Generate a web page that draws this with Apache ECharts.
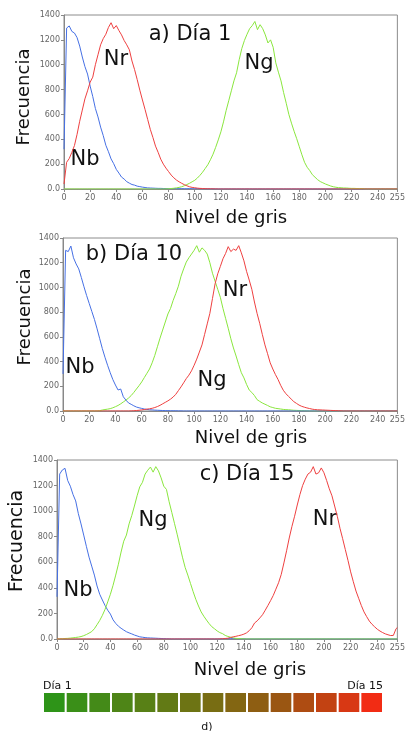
<!DOCTYPE html>
<html>
<head>
<meta charset="utf-8">
<title>Histogramas de nivel de gris</title>
<script src="https://cdn.jsdelivr.net/npm/echarts@6/dist/echarts.min.js"></script>
<style>
  html, body { margin: 0; padding: 0; background: #fff; }
  #chart { width: 408px; height: 731px; }
</style>
</head>
<body>
<div id="chart"></div>
<script>
// niveles de gris muestreados cada 2 (0..254) y el 255
const levels = []
for (let g = 0; g < 255; g += 2) levels.push(g)
levels.push(255)

// a) Día 1
const blueA = [
  320, 1295, 1312, 1268, 1255, 1218, 1150, 1062, 985, 925, 828, 744, 648, 580, 498, 430,
  352, 300, 242, 204, 158, 128, 96, 80, 59, 47, 36, 31, 23, 19, 15, 12,
  9, 8, 7, 6, 5, 5, 4, 4, 3, 3, 4, 3, 2, 3, 2, 2,
  3, 2, 2, 3, 2, 2, 2, 1, 1, 1, 0, 0, 0, 0, 0, 0,
  0, 0, 0, 0, 0, 0, 0, 0, 0, 0, 0, 0, 0, 0, 0, 0,
  0, 0, 0, 0, 0, 0, 0, 0, 0, 0, 0, 0, 0, 0, 0, 0,
  0, 0, 0, 0, 0, 0, 0, 0, 0, 0, 0, 0, 0, 0, 0, 0,
  0, 0, 0, 0, 0, 0, 0, 0, 0, 0, 0, 0, 0, 0, 0, 0,
  0
]
const redA = [
  40, 215, 245, 295, 350, 440, 545, 635, 725, 790, 860, 900, 1000, 1080, 1160, 1210,
  1245, 1300, 1338, 1290, 1315, 1275, 1240, 1195, 1160, 1120, 1030, 960, 880, 795, 716, 640,
  560, 480, 415, 345, 295, 240, 200, 168, 140, 112, 90, 72, 58, 46, 35, 26,
  18, 13, 10, 7, 5, 4, 3, 2, 2, 1, 1, 0, 0, 0, 0, 0,
  0, 0, 0, 0, 0, 0, 0, 0, 0, 0, 0, 0, 0, 0, 0, 0,
  0, 0, 0, 0, 0, 0, 0, 0, 0, 0, 0, 0, 0, 0, 0, 0,
  0, 0, 0, 0, 0, 0, 0, 0, 0, 0, 0, 0, 0, 0, 0, 0,
  0, 0, 0, 0, 0, 0, 0, 0, 0, 0, 0, 0, 0, 0, 0, 0,
  0
]
const greenA = [
  0, 0, 0, 0, 0, 0, 0, 0, 0, 0, 0, 0, 0, 0, 0, 0,
  0, 0, 0, 0, 0, 0, 0, 0, 0, 0, 0, 0, 0, 0, 0, 0,
  0, 0, 0, 0, 0, 0, 0, 1, 2, 4, 6, 9, 13, 18, 26, 36,
  46, 58, 70, 88, 110, 135, 165, 195, 235, 280, 335, 395, 460, 540, 630, 710,
  790, 870, 935, 1040, 1130, 1195, 1245, 1290, 1315, 1348, 1282, 1322, 1290, 1240, 1175, 1200,
  1140, 1015, 940, 870, 775, 690, 600, 530, 465, 405, 340, 275, 215, 175, 148, 115,
  95, 75, 60, 50, 40, 32, 24, 18, 14, 11, 10, 8, 8, 6, 5, 5,
  4, 3, 3, 1, 0, 0, 0, 0, 0, 0, 0, 0, 0, 0, 0, 0,
  0
]

// b) Día 10
const blueB = [
  300, 1300, 1290, 1335, 1240, 1190, 1150, 1080, 1005, 935, 870, 805, 740, 665, 585, 505,
  435, 370, 310, 255, 210, 170, 178, 115, 88, 65, 54, 42, 32, 26, 21, 16,
  13, 10, 9, 7, 6, 5, 4, 3, 3, 2, 2, 2, 1, 1, 0, 0,
  0, 0, 0, 0, 0, 0, 0, 0, 0, 0, 0, 0, 0, 0, 0, 0,
  0, 0, 0, 0, 0, 0, 0, 0, 0, 0, 0, 0, 0, 0, 0, 0,
  0, 0, 0, 0, 0, 0, 0, 0, 0, 0, 0, 0, 0, 0, 0, 0,
  0, 0, 0, 0, 0, 0, 0, 0, 0, 0, 0, 0, 0, 0, 0, 0,
  0, 0, 0, 0, 0, 0, 0, 0, 0, 0, 0, 0, 0, 0, 0, 0,
  0
]
const greenB = [
  0, 0, 0, 0, 0, 0, 0, 0, 0, 0, 0, 0, 0, 0, 3, 8,
  12, 15, 19, 26, 35, 45, 58, 73, 88, 105, 125, 150, 178, 205, 235, 270,
  305, 340, 390, 450, 520, 590, 655, 720, 785, 830, 895, 950, 1010, 1090, 1150, 1205,
  1240, 1270, 1300, 1338, 1285, 1320, 1300, 1270, 1200, 1115, 1050, 985, 920, 830, 750, 670,
  585, 510, 445, 375, 310, 268, 215, 170, 150, 125, 92, 78, 65, 55, 45, 34,
  28, 22, 19, 16, 13, 11, 10, 8, 6, 5, 4, 3, 2, 1, 0, 0,
  0, 0, 0, 0, 0, 0, 0, 0, 0, 0, 0, 0, 0, 0, 0, 0,
  0, 0, 0, 0, 0, 0, 0, 0, 0, 0, 0, 0, 0, 0, 0, 0,
  0
]
const redB = [
  0, 0, 0, 0, 0, 0, 0, 0, 0, 0, 0, 0, 0, 0, 0, 0,
  0, 0, 0, 0, 0, 0, 0, 0, 0, 0, 1, 2, 4, 6, 9, 12,
  15, 18, 22, 28, 36, 46, 58, 70, 82, 96, 113, 135, 165, 195, 228, 262,
  290, 325, 370, 420, 477, 535, 620, 705, 790, 910, 1030, 1110, 1170, 1232, 1275, 1330,
  1290, 1310, 1300, 1338, 1280, 1215, 1130, 1060, 985, 882, 790, 710, 620, 535, 464, 390,
  340, 295, 255, 208, 168, 140, 118, 97, 76, 62, 48, 38, 31, 25, 20, 15,
  12, 10, 9, 8, 7, 6, 5, 4, 3, 2, 1, 0, 0, 0, 0, 0,
  0, 0, 0, 0, 0, 0, 0, 0, 0, 0, 0, 0, 0, 0, 0, 0,
  0
]

// c) Día 15
const blueC = [
  330, 1290, 1322, 1335, 1240, 1195, 1130, 1080, 980, 900, 813, 725, 640, 570, 500, 415,
  350, 305, 262, 225, 195, 150, 122, 100, 84, 70, 57, 48, 40, 31, 24, 17,
  14, 11, 9, 8, 7, 6, 5, 4, 3, 2, 1, 0, 0, 0, 0, 0,
  0, 0, 0, 0, 0, 0, 0, 0, 0, 0, 0, 0, 0, 0, 2, 3,
  2, 3, 2, 3, 2, 1, 2, 0, 0, 0, 0, 0, 0, 0, 0, 0,
  0, 0, 0, 0, 0, 0, 0, 0, 0, 0, 0, 0, 0, 0, 0, 0,
  0, 0, 0, 0, 0, 0, 0, 0, 0, 0, 0, 0, 0, 0, 0, 0,
  0, 0, 0, 0, 0, 0, 0, 0, 0, 0, 0, 0, 0, 0, 0, 0,
  0
]
const greenC = [
  0, 1, 2, 4, 5, 7, 9, 12, 15, 19, 26, 35, 46, 58, 80, 112,
  145, 185, 232, 290, 350, 420, 500, 585, 680, 765, 813, 900, 965, 1040, 1120, 1190,
  1225, 1290, 1320, 1345, 1305, 1348, 1315, 1260, 1195, 1170, 1074, 990, 905, 820, 730, 640,
  560, 500, 435, 370, 310, 258, 212, 178, 148, 120, 96, 80, 63, 50, 42, 28,
  20, 14, 9, 5, 3, 2, 1, 0, 0, 0, 0, 0, 0, 0, 0, 0,
  0, 0, 0, 0, 0, 0, 0, 0, 0, 0, 0, 0, 0, 0, 0, 0,
  0, 0, 0, 0, 0, 0, 0, 0, 0, 0, 0, 0, 0, 0, 0, 0,
  0, 0, 0, 0, 0, 0, 0, 0, 0, 0, 0, 0, 0, 0, 0, 0,
  0
]
const redC = [
  0, 0, 0, 0, 0, 0, 0, 0, 0, 0, 0, 0, 0, 0, 0, 0,
  0, 0, 0, 0, 0, 0, 0, 0, 0, 0, 0, 0, 0, 0, 0, 0,
  0, 0, 0, 0, 0, 0, 0, 0, 0, 0, 0, 0, 0, 0, 0, 0,
  0, 0, 0, 0, 0, 0, 0, 0, 0, 0, 0, 0, 0, 1, 2, 4,
  6, 12, 17, 21, 26, 31, 38, 48, 65, 88, 125, 142, 165, 190, 225, 262,
  300, 340, 390, 440, 505, 595, 690, 790, 880, 960, 1048, 1130, 1200, 1250, 1290, 1305,
  1348, 1290, 1300, 1338, 1300, 1240, 1175, 1120, 1040, 960, 866, 785, 700, 615, 525, 448,
  375, 318, 262, 212, 175, 140, 115, 95, 76, 62, 50, 40, 33, 27, 28, 80,
  90
]

// d) escala de color por día
const days = ['1', '2', '3', '4', '5', '6', '7', '8', '9', '10', '11', '12', '13', '14', '15']
const dayValues = [1, 1, 1, 1, 1, 1, 1, 1, 1, 1, 1, 1, 1, 1, 1]
const dayColors = ['#2e9418', '#3a8f18', '#448a18', '#4e8517', '#588016', '#627a15', '#6d7414',
  '#786d13', '#836612', '#8e5e12', '#9a5612', '#ae4c12', '#c24212', '#d83814', '#f22c14']

const BLUE = '#4670e4'
const RED = '#ee4040'
const GREEN = '#8ae63e'
const FONT = 'DejaVu Sans'

const grids = [
  { left: 64, top: 15, width: 336, height: 174 },
  { left: 63, top: 238, width: 335, height: 173 },
  { left: 57, top: 460, width: 345, height: 179 },
  { left: 43, top: 693, width: 340, height: 19 }
]

function histX (idx) {
  return {
    gridIndex: idx,
    type: 'value',
    min: 0,
    max: 255,
    interval: 20,
    axisLine: { show: true, lineStyle: { color: '#888' } },
    axisTick: { show: true, length: 3, lineStyle: { color: '#888' } },
    axisLabel: { fontSize: 8, color: '#666', margin: 5, fontFamily: FONT },
    splitLine: { show: false }
  }
}

function histY (idx) {
  return {
    gridIndex: idx,
    type: 'value',
    min: 0,
    max: 1400,
    interval: 200,
    axisLine: { show: true, lineStyle: { color: '#888' } },
    axisTick: { show: true, length: 3, lineStyle: { color: '#888' } },
    axisLabel: {
      fontSize: 8,
      color: '#666',
      margin: 4,
      fontFamily: FONT,
      formatter: v => (v === 0 ? '0.0' : String(v))
    },
    splitLine: { show: false }
  }
}

function hist (name, values, color, idx) {
  return {
    name: name,
    type: 'line',
    xAxisIndex: idx,
    yAxisIndex: idx,
    data: levels.map((g, i) => [g, values[i]]),
    showSymbol: false,
    symbol: 'none',
    silent: true,
    lineStyle: { width: 1, color: color },
    itemStyle: { color: color }
  }
}

function label (text, x, y, size, align) {
  return {
    type: 'text',
    x: x,
    y: y,
    silent: true,
    style: {
      text: text,
      fontSize: size,
      fontFamily: FONT,
      fill: '#111',
      align: align || 'center',
      verticalAlign: 'middle'
    }
  }
}

function rotLabel (text, x, y, size) {
  const t = label(text, x, y, size)
  t.rotation = Math.PI / 2
  return t
}

const texts = [
  label('a) Día 1', 190, 35, 21),
  label('Nr', 116, 60, 21),
  label('Ng', 259, 64, 21),
  label('Nb', 85, 160, 21),
  rotLabel('Frecuencia', 24, 97, 18),
  label('Nivel de gris', 231, 218, 18),

  label('b) Día 10', 134, 255, 21),
  label('Nr', 235, 291, 21),
  label('Ng', 212, 381, 21),
  label('Nb', 80, 368, 21),
  rotLabel('Frecuencia', 25, 317, 18),
  label('Nivel de gris', 251, 438, 18),

  label('c) Día 15', 247, 475, 21),
  label('Ng', 153, 521, 21),
  label('Nr', 325, 520, 21),
  label('Nb', 78, 591, 21),
  rotLabel('Frecuencia', 17, 541, 19),
  label('Nivel de gris', 250, 670, 18),

  label('Día 1', 43, 686, 11, 'left'),
  label('Día 15', 383, 686, 11, 'right'),
  label('d)', 207, 727, 11)
]

const option = {
  animation: false,
  backgroundColor: '#fff',
  grid: grids.map((g, i) => Object.assign({
    show: i < 3,
    borderColor: '#8c8c8c',
    borderWidth: 1,
    containLabel: false
  }, g)),
  xAxis: [
    histX(0), histX(1), histX(2),
    { gridIndex: 3, type: 'category', data: days, show: false }
  ],
  yAxis: [
    histY(0), histY(1), histY(2),
    { gridIndex: 3, type: 'value', min: 0, max: 1, show: false }
  ],
  // el orden de dibujo decide qué color se ve sobre la línea base
  series: [
    hist('Nb', blueA, BLUE, 0),
    hist('Ng', greenA, GREEN, 0),
    hist('Nr', redA, RED, 0),
    hist('Ng', greenB, GREEN, 1),
    hist('Nb', blueB, BLUE, 1),
    hist('Nr', redB, RED, 1),
    hist('Nb', blueC, BLUE, 2),
    hist('Ng', greenC, GREEN, 2),
    hist('Nr', redC, RED, 2),
    {
      type: 'bar',
      xAxisIndex: 3,
      yAxisIndex: 3,
      barCategoryGap: '9%',
      silent: true,
      data: dayValues.map((v, i) => ({ value: v, itemStyle: { color: dayColors[i] } }))
    }
  ],
  graphic: texts
}

const chart = echarts.init(document.getElementById('chart'))
chart.setOption(option)
</script>
</body>
</html>
